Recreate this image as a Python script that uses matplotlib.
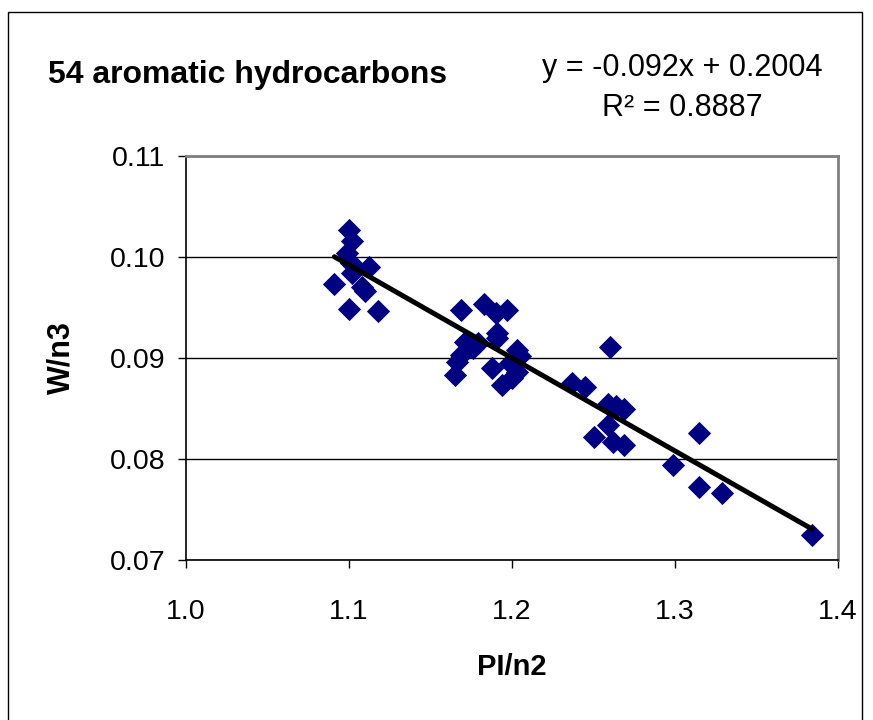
import matplotlib.pyplot as plt
from matplotlib.patches import Rectangle

plt.rcParams['font.family'] = ['Liberation Sans', 'DejaVu Sans']

# PI/n2 vs W/n3 for the aromatic hydrocarbons
pi_n2 = [1.100, 1.102, 1.099, 1.101, 1.102, 1.112, 1.091, 1.108, 1.110, 1.100, 1.118,
         1.169, 1.183, 1.190, 1.197, 1.191, 1.191, 1.171, 1.176, 1.179, 1.169, 1.166,
         1.165, 1.188, 1.203, 1.199, 1.203, 1.200, 1.194, 1.205,
         1.260, 1.237, 1.245, 1.259, 1.264, 1.269, 1.259, 1.250, 1.262, 1.269,
         1.315, 1.299, 1.315, 1.329, 1.384]
w_n3 = [0.1027, 0.1016, 0.1004, 0.0994, 0.0984, 0.0990, 0.0973, 0.0970, 0.0966, 0.0949, 0.0947,
        0.0948, 0.0953, 0.0945, 0.0948, 0.0925, 0.0920, 0.0916, 0.0910, 0.0915, 0.0903, 0.0896,
        0.0883, 0.0890, 0.0908, 0.0895, 0.0886, 0.0880, 0.0873, 0.0902,
        0.0911, 0.0875, 0.0871, 0.0854, 0.0852, 0.0850, 0.0834, 0.0822, 0.0817, 0.0814,
        0.0826, 0.0794, 0.0772, 0.0766, 0.0725]

slope = -0.092
intercept = 0.2004
r2 = 0.8887

fig = plt.figure(figsize=(8.73, 7.2), dpi=100)
ax = fig.add_axes([0.2131, 0.2222, 0.7468, 0.5611])

# chart border
fig.patches.append(Rectangle((8 / 873, -0.05), 854 / 873, 1.05 - 12 / 720,
                             transform=fig.transFigure, fill=False,
                             edgecolor='black', linewidth=1))

ax.scatter(pi_n2, w_n3, marker='D', s=140, color='#000080', zorder=3, linewidths=0)

x0, x1 = min(pi_n2), max(pi_n2)
ax.plot([x0, x1], [slope * x0 + intercept, slope * x1 + intercept],
        color='black', linewidth=3.6, zorder=4, solid_capstyle='round')

ax.set_xlim(1.0, 1.4)
ax.set_ylim(0.07, 0.11)
ax.set_xticks([1.0, 1.1, 1.2, 1.3, 1.4])
ax.set_xticklabels(['1.0', '1.1', '1.2', '1.3', '1.4'])
ax.set_yticks([0.07, 0.08, 0.09, 0.10, 0.11])
ax.set_yticklabels(['0.07', '0.08', '0.09', '0.10', '0.11'])
ax.tick_params(axis='both', labelsize=20.5, direction='out', length=6, width=1)
ax.tick_params(axis='y', pad=9)
ax.tick_params(axis='x', pad=22)
ax.grid(axis='y', color='black', linewidth=1)
ax.set_axisbelow(True)

for side in ['top', 'right']:
    ax.spines[side].set_color('#808080')
    ax.spines[side].set_linewidth(2)
ax.spines['left'].set_linewidth(1.2)
ax.spines['bottom'].set_linewidth(1.2)

ax.set_xlabel('PI/n2', fontsize=21, fontweight='bold', labelpad=20)
ax.set_ylabel('W/n3', fontsize=22, fontweight='bold', labelpad=24)

fig.text(48 / 873, 1 - 75 / 720, '54 aromatic hydrocarbons', fontsize=23,
         fontweight='bold', va='center', ha='left')
fig.text(682 / 873, 1 - 68 / 720, f'y = {slope}x + {intercept}', fontsize=22,
         va='center', ha='center')
fig.text(682 / 873, 1 - 108 / 720, f'R² = {r2}', fontsize=22,
         va='center', ha='center')

fig.savefig('out.png', dpi=100)
